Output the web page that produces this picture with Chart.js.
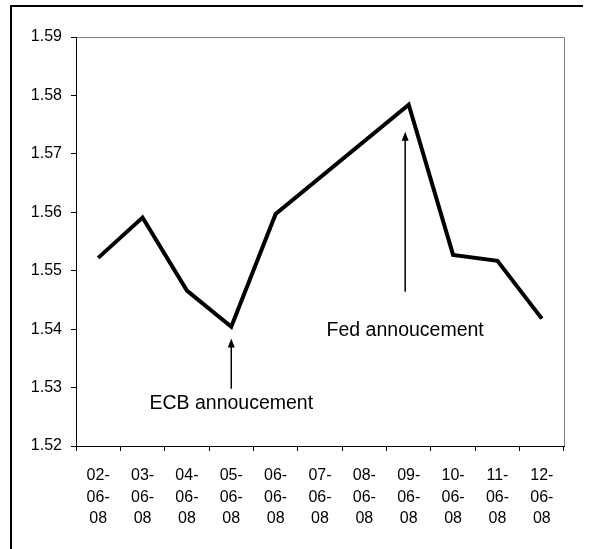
<!DOCTYPE html>
<html>
<head>
<meta charset="utf-8">
<script src="https://cdn.jsdelivr.net/npm/chart.js@4/dist/chart.umd.min.js"></script>
<style>
  html, body { margin: 0; padding: 0; background: #fff; overflow: hidden; }
  #wrap { position: relative; width: 593px; height: 549px; }
  #frame { position: absolute; left: 10px; top: 5px; width: 573px; height: 600px;
           border-top: 2px solid #000; border-left: 2px solid #000; box-sizing: border-box; pointer-events: none; }
  canvas { position: absolute; left: 0; top: 0; }
</style>
</head>
<body>
<div id="wrap">
  <canvas id="c" width="593" height="549"></canvas>
  <div id="frame"></div>
</div>
<script>
// Trading days (weekend 07/08 have no quote)
const dates = ['02-06-08', '03-06-08', '04-06-08', '05-06-08', '06-06-08', '07-06-08',
               '08-06-08', '09-06-08', '10-06-08', '11-06-08', '12-06-08'];
const rates = [1.5522, 1.5591, 1.5466, 1.5404, 1.5597, null, null, 1.5784, 1.5527, 1.5517, 1.5418];

// Y axis range
const yMin = 1.52;
const yMax = 1.59;
const yStep = 0.01;

// Event notes: category position, arrow tip / tail and text baseline in rate units
const noteTexts = ['ECB annoucement', 'Fed annoucement'];
const noteAt = [3, 6.92];
const noteTip = [1.5384, 1.5738];
const noteTail = [1.5298, 1.5464];
const noteBaseline = [1.5264, 1.5388];

const FONT = "'Liberation Sans', Arial, Helvetica, sans-serif";

const notesPlugin = {
  id: 'notes',
  beforeDatasetsDraw(chart) {
    const { ctx, chartArea: a } = chart;
    ctx.save();
    ctx.strokeStyle = '#808080';
    ctx.lineWidth = 1;
    ctx.beginPath();
    ctx.moveTo(Math.round(a.left) + 0.5, Math.round(a.top) + 0.5);
    ctx.lineTo(Math.round(a.right) + 0.5, Math.round(a.top) + 0.5);
    ctx.lineTo(Math.round(a.right) + 0.5, Math.round(a.bottom));
    ctx.stroke();
    ctx.restore();
  },
  afterDatasetsDraw(chart) {
    const { ctx, scales: { x, y } } = chart;
    ctx.save();
    ctx.strokeStyle = '#000';
    ctx.fillStyle = '#000';
    ctx.lineWidth = 1.5;
    noteTexts.forEach((t, i) => {
      const px = x.getPixelForValue(noteAt[i]);
      const tipY = y.getPixelForValue(noteTip[i]);
      const tailY = y.getPixelForValue(noteTail[i]);
      const headLen = 9, headW = 3.5;
      ctx.beginPath();
      ctx.moveTo(px, tailY);
      ctx.lineTo(px, tipY + headLen - 1);
      ctx.stroke();
      ctx.beginPath();
      ctx.moveTo(px, tipY);
      ctx.lineTo(px - headW, tipY + headLen);
      ctx.lineTo(px + headW, tipY + headLen);
      ctx.closePath();
      ctx.fill();
      ctx.font = '19.5px ' + FONT;
      ctx.textAlign = 'center';
      ctx.textBaseline = 'alphabetic';
      ctx.fillText(t, px, y.getPixelForValue(noteBaseline[i]));
    });
    ctx.restore();
  }
};

new Chart(document.getElementById('c'), {
  type: 'line',
  data: {
    labels: dates,
    datasets: [{
      data: rates,
      borderColor: '#000',
      borderWidth: 4,
      borderJoinStyle: 'miter',
      borderCapStyle: 'butt',
      pointRadius: 0,
      pointHoverRadius: 0,
      tension: 0,
      spanGaps: true,
      fill: false
    }]
  },
  options: {
    responsive: false,
    animation: false,
    events: [],
    layout: { padding: { left: 0, top: 37, right: 29, bottom: 0 } },
    plugins: { legend: { display: false }, tooltip: { enabled: false } },
    scales: {
      x: {
        offset: true,
        afterFit(s) { s.height = 103; },
        grid: { display: true, offset: true, drawOnChartArea: false, drawTicks: true, tickLength: 5, color: '#000', lineWidth: 1 },
        border: { display: true, color: '#000', width: 1 },
        ticks: {
          autoSkip: false,
          maxRotation: 0,
          minRotation: 0,
          padding: 14,
          color: '#000',
          font: { family: FONT, size: 16, lineHeight: 1.35 },
          callback(v) {
            const parts = dates[v].split('-');
            return [parts[0] + '-', parts[1] + '-', parts[2]];
          }
        }
      },
      y: {
        min: yMin,
        max: yMax,
        afterFit(s) { s.width = 76; },
        grid: { display: true, drawOnChartArea: false, drawTicks: true, tickLength: 5, color: '#000', lineWidth: 1 },
        border: { display: true, color: '#000', width: 1 },
        ticks: {
          stepSize: yStep,
          padding: 9,
          color: '#000',
          font: { family: FONT, size: 16 },
          callback(v) { return Number(v).toFixed(2); }
        }
      }
    }
  },
  plugins: [notesPlugin]
});
</script>
</body>
</html>
